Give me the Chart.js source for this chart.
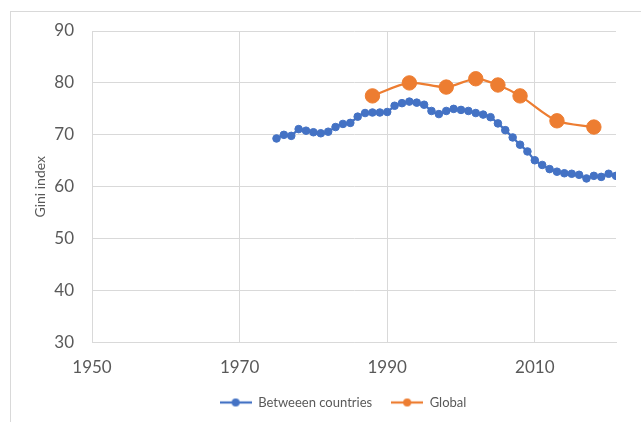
<!DOCTYPE html>
<html>
<head>
<meta charset="utf-8">
<script src="https://cdn.jsdelivr.net/npm/chart.js@4.4.1/dist/chart.umd.min.js"></script>
<style>
  html, body { margin: 0; padding: 0; background: #ffffff; overflow: hidden; }
  #wrap { position: relative; width: 641px; height: 422px; overflow: hidden; }
  #frame { position: absolute; left: 10px; top: 11px; width: 700px; height: 500px; border: 1px solid #d9d9d9; box-sizing: border-box; }
  #c { position: absolute; left: 0; top: 0; }
</style>
</head>
<body>
<div id="wrap">
  <div id="frame"></div>
  <canvas id="c" width="641" height="422"></canvas>
</div>
<script>
// ---- data ----
const betweenYears = [1975,1976,1977,1978,1979,1980,1981,1982,1983,1984,1985,1986,1987,1988,1989,1990,
  1991,1992,1993,1994,1995,1996,1997,1998,1999,2000,2001,2002,2003,2004,2005,
  2006,2007,2008,2009,2010,2011,2012,2013,2014,2015,2016,2017,2018,2019,2020,2021];
const betweenValues = [69.3,70.0,69.8,71.1,70.8,70.5,70.3,70.6,71.5,72.1,72.3,73.5,74.2,74.3,74.3,74.4,
  75.6,76.1,76.4,76.2,75.8,74.6,74.0,74.6,75.0,74.8,74.6,74.2,73.9,73.4,72.2,
  70.9,69.5,68.1,66.8,65.1,64.2,63.4,62.9,62.6,62.5,62.3,61.6,62.1,61.9,62.5,62.1];
const globalYears = [1988,1993,1998,2002,2005,2008,2013,2018];
const globalValues = [77.5,80.0,79.2,80.8,79.6,77.5,72.7,71.5];
const xTicks = [1950,1970,1990,2010];
const yTicks = [30,40,50,60,70,80,90];
const seriesNames = ['Betweeen countries','Global'];
const yTitle = 'Gini index';

const BLUE = '#4472C4', ORANGE = '#ED7D31';
const TXT = '#595959', GRID = '#d9d9d9';
const FONT = 'Lato, "Noto Sans", sans-serif';

function legendIcon(color, r) {
  const cv = document.createElement('canvas');
  cv.width = 32; cv.height = 12;
  const g = cv.getContext('2d');
  g.strokeStyle = color; g.lineWidth = 2.25;
  g.beginPath(); g.moveTo(0, 6); g.lineTo(32, 6); g.stroke();
  g.fillStyle = color;
  g.beginPath(); g.arc(16, 6, r, 0, Math.PI * 2); g.fill();
  return cv;
}
const icons = [legendIcon(BLUE, 4), legendIcon(ORANGE, 4)];

// shift the legend block so it is centred like the reference
const legendShift = {
  id: 'legendShift',
  afterLayout(chart) {
    const L = chart.legend;
    if (L) { L.left -= 11; L.right -= 11; }
  }
};

const chart = new Chart(document.getElementById('c'), {
  type: 'line',
  plugins: [legendShift],
  data: {
    datasets: [
      {
        label: seriesNames[0],
        data: betweenYears.map((x, i) => ({x, y: betweenValues[i]})),
        borderColor: BLUE, backgroundColor: BLUE,
        borderWidth: 2.25, tension: 0.3,
        pointRadius: 3.8, pointBorderWidth: 1,
        pointBackgroundColor: BLUE, pointBorderColor: BLUE
      },
      {
        label: seriesNames[1],
        data: globalYears.map((x, i) => ({x, y: globalValues[i]})),
        borderColor: ORANGE, backgroundColor: ORANGE,
        borderWidth: 2.25, tension: 0.3,
        pointRadius: 7.2, pointBorderWidth: 1,
        pointBackgroundColor: ORANGE, pointBorderColor: ORANGE
      }
    ]
  },
  options: {
    responsive: false,
    animation: false,
    devicePixelRatio: 1,
    layout: { padding: { left: 0, top: 31, right: 25, bottom: 3 } },
    plugins: {
      tooltip: { enabled: false },
      legend: {
        position: 'bottom',
        fullSize: false,
        labels: {
          usePointStyle: true,
          pointStyleWidth: 32,
          padding: 19,
          color: TXT,
          font: { family: FONT, size: 13 },
          generateLabels: (chart) => {
            const items = Chart.defaults.plugins.legend.labels.generateLabels(chart);
            items.forEach((it, i) => { it.pointStyle = icons[i]; });
            return items;
          }
        }
      }
    },
    scales: {
      x: {
        type: 'linear',
        min: 1950, max: 2021,
        afterBuildTicks: (s) => { s.ticks = xTicks.map(v => ({value: v})); },
        afterFit: (s) => { s.height = 34.5; },
        grid: { color: GRID, lineWidth: 1, drawTicks: false },
        border: { display: true, color: GRID, width: 1 },
        ticks: { color: TXT, font: { family: FONT, size: 17 }, padding: 15, maxRotation: 0,
                 callback: (v) => String(v) }
      },
      y: {
        type: 'linear',
        min: 30, max: 90,
        afterBuildTicks: (s) => { s.ticks = yTicks.map(v => ({value: v})); },
        afterFit: (s) => { s.width = 92; },
        grid: { color: GRID, lineWidth: 1, drawTicks: false },
        border: { display: true, color: GRID, width: 1 },
        ticks: { color: TXT, font: { family: FONT, size: 17 }, padding: 18 },
        title: {
          display: true, text: yTitle, color: TXT,
          font: { family: FONT, size: 14 },
          padding: { top: 32, bottom: 0 }
        }
      }
    }
  }
});
</script>
</body>
</html>
